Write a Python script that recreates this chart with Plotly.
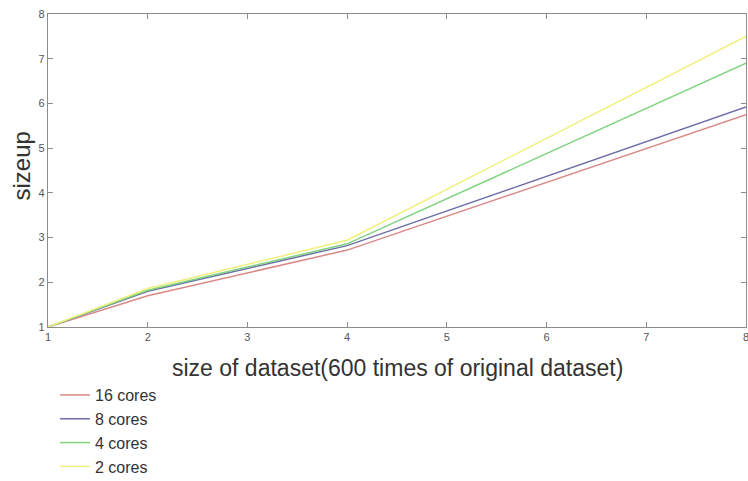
import plotly.graph_objects as go

sizes = [1, 2, 4, 8]
series_names = ["16 cores", "8 cores", "4 cores", "2 cores"]
sizeup_16 = [1.0, 1.70, 2.72, 5.75]
sizeup_8 = [1.0, 1.80, 2.82, 5.92]
sizeup_4 = [1.0, 1.82, 2.86, 6.90]
sizeup_2 = [1.0, 1.86, 2.94, 7.50]
colors = ["#d98a88", "#6e6ea8", "#7fd47f", "#eef07a"]
x_title = "size of dataset(600 times of original dataset)"
y_title = "sizeup"

fig = go.Figure()
for name, vals, c in zip(series_names, [sizeup_16, sizeup_8, sizeup_4, sizeup_2], colors):
    fig.add_trace(go.Scatter(x=sizes, y=vals, mode="lines", name=name,
                             line=dict(color=c, width=1.5)))

axis_common = dict(showline=True, linecolor="#8c8c8c", linewidth=1.2, mirror="ticks",
                   ticks="inside", ticklen=5, tickcolor="#8c8c8c", showgrid=False,
                   zeroline=False, ticklabeloverflow="allow", automargin=False,
                   tickfont=dict(family="Liberation Sans, Arial", size=11, color="#555"))
fig.update_xaxes(range=[1, 8], dtick=1, **axis_common)
fig.update_yaxes(range=[1, 8], dtick=1, **axis_common)

fig.add_annotation(text=x_title, xref="paper", yref="paper", x=0.5, y=0,
                   xanchor="center", yanchor="middle", yshift=-41, showarrow=False,
                   font=dict(family="Liberation Sans, Arial", size=23, color="#333"))
fig.add_annotation(text=y_title, xref="paper", yref="paper", x=0, y=0.5,
                   xanchor="center", yanchor="middle", xshift=-27, yshift=4, textangle=-90,
                   showarrow=False,
                   font=dict(family="Liberation Sans, Arial", size=24, color="#333"))

fig.update_layout(
    width=748, height=481,
    margin=dict(l=48, r=2, t=14, b=154, autoexpand=False),
    plot_bgcolor="white", paper_bgcolor="white",
    showlegend=True,
    legend=dict(x=0.01, y=0.214, xanchor="left", yanchor="top", yref="container",
                font=dict(family="Liberation Sans, Arial", size=16, color="#333"),
                itemwidth=30, tracegroupgap=0, bgcolor="rgba(0,0,0,0)"),
)
fig.write_html("out.html")
